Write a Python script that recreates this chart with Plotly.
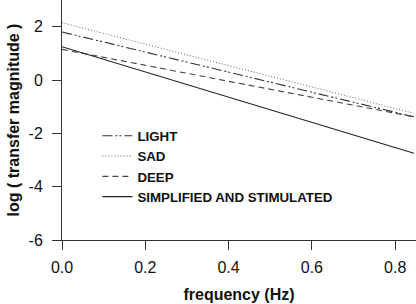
import plotly.graph_objects as go

freq = [0.0, 0.845]
light = [1.80, -1.38]
sad = [2.15, -1.25]
deep = [1.15, -1.38]
simplified = [1.25, -2.75]

names = ["LIGHT", "SAD", "DEEP", "SIMPLIFIED AND STIMULATED"]
series = [light, sad, deep, simplified]
dashes = ["10px,3px,2px,2px,2px,3px", "1px,2px", "6px,4px", "solid"]
colors = ["#333333", "#666666", "#444444", "#222222"]
widths = [1.1, 1.0, 1.1, 1.1]

xticks = [0, 0.2, 0.4, 0.6, 0.8]
xticklabels = ["0.0", "0.2", "0.4", "0.6", "0.8"]
yticks = [-6, -4, -2, 0, 2]
yticklabels = ["-6", "-4", "-2", "0", "2"]

fig = go.Figure()
for n, s, d, c, w in zip(names, series, dashes, colors, widths):
    fig.add_trace(go.Scatter(x=freq, y=s, mode="lines", name=n,
                             line=dict(color=c, width=w, dash=d)))

font = "Liberation Sans, Arial, sans-serif"
fig.update_layout(
    width=416, height=304,
    margin=dict(l=62, r=0, t=0, b=64),
    plot_bgcolor="white", paper_bgcolor="white",
    font=dict(family=font, size=16, color="#111"),
    showlegend=True,
    legend=dict(x=0.10, y=0.4975, xanchor="left", yanchor="top",
                bgcolor="rgba(0,0,0,0)", borderwidth=0,
                font=dict(family=font, size=13.3, color="#111", weight="bold"),
                itemwidth=30, tracegroupgap=0),
    xaxis=dict(range=[0, 0.85], tickvals=xticks, ticktext=xticklabels,
               showgrid=False, zeroline=False, showline=True, linecolor="#333",
               linewidth=1, ticks="outside", ticklen=9, tickcolor="#333",
               ticklabelstandoff=4,
               title=dict(text="frequency (Hz)", standoff=13,
                          font=dict(family=font, size=16, weight="bold")),
               tickfont=dict(size=16)),
    yaxis=dict(range=[-6, 3], tickvals=yticks, ticktext=yticklabels,
               showgrid=False, zeroline=False, showline=True, linecolor="#333",
               linewidth=1, ticks="outside", ticklen=9, tickcolor="#333",
               ticklabelstandoff=6,
               title=dict(text="log ( transfer magnitude )", standoff=4,
                          font=dict(family=font, size=16, weight="bold")),
               tickfont=dict(size=16)),
)
fig.write_html("out.html")
